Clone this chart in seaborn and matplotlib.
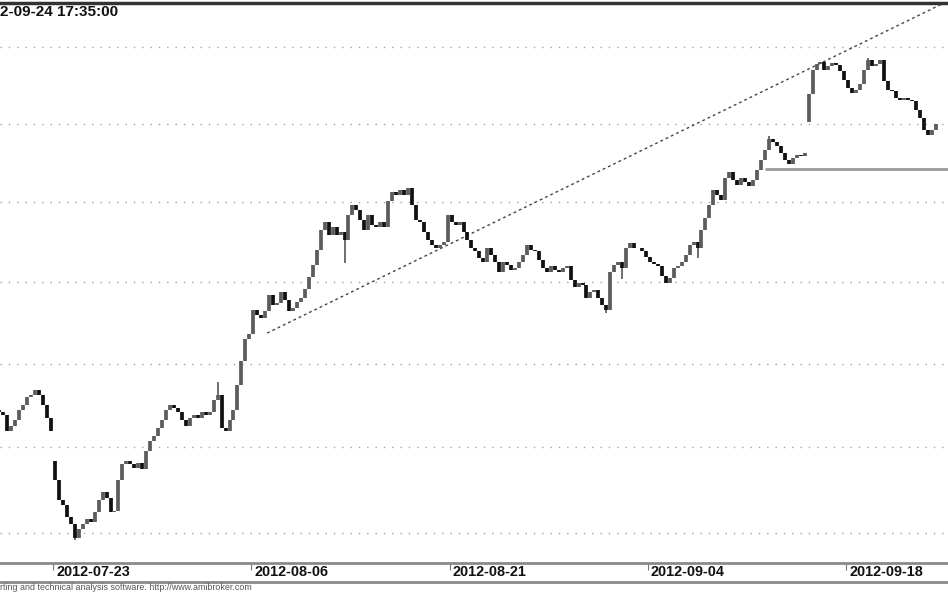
import matplotlib
matplotlib.use("Agg")
import matplotlib.pyplot as plt
import matplotlib.transforms as mtransforms
from matplotlib.ticker import NullLocator
import numpy as np
import pandas as pd
import seaborn as sns

# trading days shown on the chart (the first ones are partly cut off on the left)
days = ["2012-07-18", "2012-07-19", "2012-07-20", "2012-07-23", "2012-07-24",
        "2012-07-25", "2012-07-26", "2012-07-27", "2012-07-30", "2012-07-31",
        "2012-08-01", "2012-08-02", "2012-08-03", "2012-08-06", "2012-08-07",
        "2012-08-08", "2012-08-09", "2012-08-10", "2012-08-13", "2012-08-14",
        "2012-08-16", "2012-08-17", "2012-08-20", "2012-08-21", "2012-08-22",
        "2012-08-23", "2012-08-24", "2012-08-27", "2012-08-28", "2012-08-29",
        "2012-08-30", "2012-08-31", "2012-09-03", "2012-09-04", "2012-09-05",
        "2012-09-06", "2012-09-07", "2012-09-10", "2012-09-11", "2012-09-12",
        "2012-09-13", "2012-09-14", "2012-09-17", "2012-09-18", "2012-09-19",
        "2012-09-20", "2012-09-21", "2012-09-24"]

# intraday closes, one row per day
closes = [
    [2222, 2221, 2219, 2210, 2213],
    [2216, 2222, 2225, 2230, 2231],
    [2234, 2231, 2225, 2217.5, 2210],
    [2181, 2169, 2166, 2159, 2155],
    [2147, 2152, 2155, 2158, 2156.5],
    [2162, 2169, 2174, 2170.5, 2162],
    [2163, 2181, 2190, 2192, 2190],
    [2188, 2191, 2187, 2198, 2204],
    [2207, 2211.5, 2216, 2222, 2225],
    [2223.5, 2221, 2216, 2213, 2217.5],
    [2219, 2217.5, 2221, 2219, 2221],
    [2228, 2231, 2211.5, 2210, 2216],
    [2222, 2237, 2252, 2265, 2268],
    [2283, 2280, 2278, 2282, 2292],
    [2286, 2287, 2294, 2289, 2282],
    [2284, 2288, 2290, 2296, 2303],
    [2310.5, 2320, 2332.5, 2337.5, 2329.5],
    [2334, 2329, 2331, 2326, 2342],
    [2348, 2345, 2339, 2332.5, 2342],
    [2335.5, 2334, 2337.5, 2334, 2351],
    [2356.5, 2354.5, 2357.5, 2354.5, 2359],
    [2348, 2339, 2337.5, 2331, 2326],
    [2323, 2321, 2323, 2325, 2342],
    [2337.5, 2335.5, 2337.5, 2331, 2326],
    [2321, 2319, 2315, 2312.5, 2321],
    [2317, 2312.5, 2306, 2312.5, 2310.5],
    [2307.5, 2309, 2312.5, 2317, 2323],
    [2320, 2319, 2314, 2309, 2306],
    [2310, 2307.5, 2306, 2309, 2310],
    [2301, 2297, 2299.5, 2298, 2290],
    [2294, 2295, 2290, 2286, 2283],
    [2306, 2310.5, 2312.5, 2309, 2321],
    [2324.5, 2321, 2321, 2319, 2315.5],
    [2312.5, 2311, 2310, 2304, 2299.5],
    [2302.5, 2309, 2310, 2312.5, 2317],
    [2323, 2325, 2321, 2332.5, 2340],
    [2348, 2357.5, 2354.5, 2351.5, 2365.5],
    [2369, 2364, 2361, 2365.5, 2363],
    [2360, 2364, 2370.5, 2377, 2383],
    [2390, 2388.5, 2386, 2381.5, 2377],
    [2374.5, 2378, 2380, 2379.5, 2381.5],
    [2419, 2435, 2439, 2440, 2435],
    [2437.5, 2439.5, 2438.5, 2434, 2428.5],
    [2423.5, 2420, 2422, 2425.5, 2435],
    [2441.5, 2437.5, 2439, 2441.5, 2427.5],
    [2422, 2421, 2417, 2415.5, 2417],
    [2415.5, 2414.5, 2409, 2404, 2396],
    [2393, 2396, 2400],
]

# opening gaps
gap_open = {"2012-07-23": 2192, "2012-09-14": 2401}

# the longer shadows that stand out: (day, bar of day, extreme price)
wick_day = ["2012-07-24", "2012-08-02", "2012-08-10", "2012-08-30",
            "2012-08-31", "2012-09-06", "2012-09-12", "2012-09-19"]
wick_bar = [0, 1, 3, 4, 3, 2, 0, 0]
wick_price = [2146, 2239, 2312, 2281, 2302, 2315, 2392, 2443]

label_dates = ["2012-07-23", "2012-08-06", "2012-08-21", "2012-09-04", "2012-09-18"]
grid_levels = [2150, 2200, 2250, 2300, 2350, 2400, 2450]

# dotted trend line and grey support line (x in trading days from 2012-07-23)
trend_x = [10.8, 45.13]
trend_y = [2268.7, 2480.5]
support_x = [35.96, 45.2]
support_y = [2371, 2371]

# texts as they show, cut by the picture edges
stamp = "2-09-24 17:35:00"
footer = "rting and technical analysis software. http://www.amibroker.com"

# build bar table
rows = []
for i, (day, vals) in enumerate(zip(days, closes)):
    d = i - days.index("2012-07-23")
    for j, c in enumerate(vals):
        rows.append({"day": day, "bar": j, "x": d + (j + 0.5) / 5, "close": c})
bars = pd.DataFrame(rows)
bars["open"] = bars["close"].shift(1).fillna(bars["close"].iloc[0])
for day, o in gap_open.items():
    bars.loc[(bars["day"] == day) & (bars["bar"] == 0), "open"] = o
bars["lo"] = bars[["open", "close"]].min(axis=1)
bars["hi"] = bars[["open", "close"]].max(axis=1)
bars["up"] = bars["close"] >= bars["open"]

wicks = pd.DataFrame({"day": wick_day, "bar": wick_bar, "ext": wick_price})
wicks = wicks.merge(bars, on=["day", "bar"])
wicks["lo"] = wicks[["ext", "lo"]].min(axis=1)
wicks["hi"] = wicks[["ext", "hi"]].max(axis=1)

sns.set_theme(style="white")
plt.rcParams["font.family"] = ["Liberation Sans", "DejaVu Sans"]

fig = plt.figure(figsize=(9.48, 5.93), dpi=100)
ax = fig.add_axes([0, 30 / 593, 1, 560 / 593])
ax.set_yscale("log")
ax.set_xlim(-2.673, 45.13)
ax.set_ylim(2132.7, 2479.2)

ax.set_yticks(grid_levels)
ax.yaxis.set_minor_locator(NullLocator())
ax.tick_params(left=False, bottom=False, labelleft=False, labelbottom=False)
ax.set_xticks([])
ax.grid(axis="y", color="#a0a0a0", linestyle=(0, (1, 5)), linewidth=1)

sns.lineplot(x=trend_x, y=trend_y, ax=ax, color="#444444", linewidth=1,
             linestyle=(0, (2, 2.2)))
sns.lineplot(x=support_x, y=support_y, ax=ax, color="#9a9a9a", linewidth=2)

ax.vlines(wicks["x"], wicks["lo"], wicks["hi"], colors="#555555", linewidth=1.2)
colors = np.where(bars["up"], "#5c5c5c", "#111111")
ax.vlines(bars["x"], bars["lo"], bars["hi"], colors=colors, linewidth=2.7)

for side in ["left", "right", "bottom"]:
    ax.spines[side].set_visible(False)
ax.spines["top"].set_color("#333333")
ax.spines["top"].set_linewidth(2.5)

# date strip
ax2 = fig.add_axes([0, 11 / 593, 1, 19 / 593], sharex=ax)
ax2.set_yticks([])
for side in ["left", "right"]:
    ax2.spines[side].set_visible(False)
for side in ["top", "bottom"]:
    ax2.spines[side].set_color("#8a8a8a")
    ax2.spines[side].set_linewidth(2)
pos = [days.index(d) - days.index("2012-07-23") for d in label_dates]
ax2.set_xticks(pos)
ax2.tick_params(axis="x", direction="in", length=5, width=0.8, color="#777777",
                top=True, bottom=False, labelbottom=False)
shift = mtransforms.offset_copy(ax2.transData, fig=fig, x=3, y=0, units="dots")
for p, lab in zip(pos, label_dates):
    ax2.text(p, 0.5, lab, transform=mtransforms.blended_transform_factory(shift, ax2.transAxes),
             ha="left", va="center", fontsize=10.4, fontweight="bold", color="#111111")

fig.text(0, 1 - 12 / 593, stamp, ha="left", va="center",
         fontsize=11, fontweight="bold", color="#111111")
fig.text(0, 5 / 593, footer, ha="left", va="center",
         fontsize=6.4, color="#555555")

fig.savefig("out.png", dpi=100)
